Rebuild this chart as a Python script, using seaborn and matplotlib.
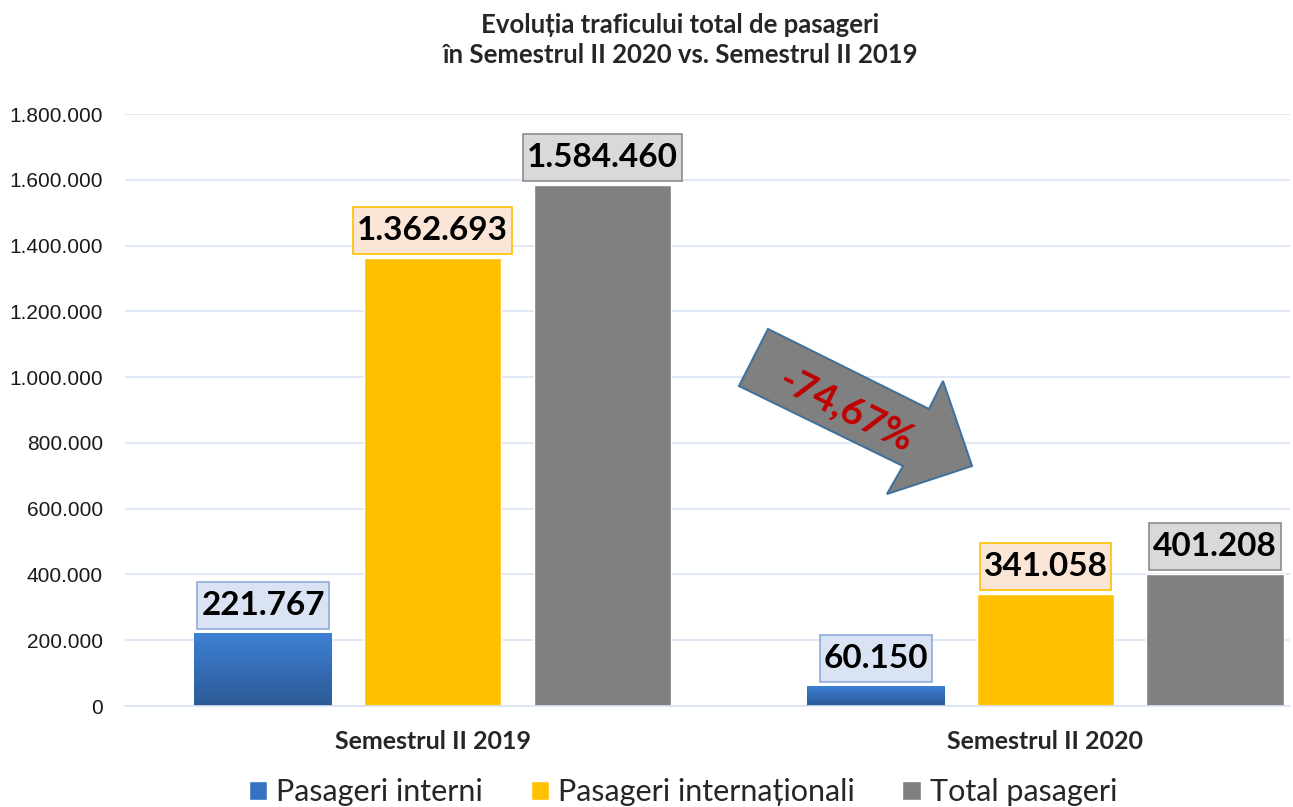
import numpy as np
import pandas as pd
import matplotlib.pyplot as plt
import seaborn as sns
from matplotlib.patches import Polygon
from matplotlib.path import Path
from matplotlib.ticker import FuncFormatter

# date
semestre = ["Semestrul II 2019", "Semestrul II 2020"]
tipuri = ["Pasageri interni", "Pasageri internaționali", "Total pasageri"]
interni = [221767, 60150]
internationali = [1362693, 341058]
total = [1584460, 401208]
scadere = "-74,67%"

culori = ["#3572c2", "#ffc000", "#808080"]
casete = [("#dae3f3", "#8faadc"), ("#fbe5d6", "#ffc000"), ("#d9d9d9", "#8c8c8c")]

df = pd.DataFrame({
    "semestru": semestre * 3,
    "tip": [t for t in tipuri for _ in semestre],
    "pasageri": interni + internationali + total,
})

sns.set_style("white")
plt.rcParams['font.family'] = ['Lato', 'DejaVu Sans']

W, H = 1293, 807
fig = plt.figure(figsize=(W / 100, H / 100), dpi=100)
ax = fig.add_axes([125 / W, 1 - 706 / H, 1165 / W, 592 / H])

sns.barplot(data=df, x="semestru", y="pasageri", hue="tip", palette=culori,
            saturation=1, width=0.83, gap=0.19, ax=ax)

# gradient pe barele albastre
grad = np.linspace(0, 1, 256).reshape(-1, 1)
cmap_blue = sns.blend_palette(["#2c5a96", "#3d80d4"], as_cmap=True)
for bar in ax.containers[0]:
    x0, w, h = bar.get_x(), bar.get_width(), bar.get_height()
    im = ax.imshow(grad, extent=(x0, x0 + w, 0, h), origin="lower", aspect="auto",
                   cmap=cmap_blue, zorder=bar.get_zorder() + 0.1)
    im.set_clip_path(bar)


# caseta cu pad diferit pe orizontala si verticala
def caseta(x0, y0, width, height, mutation_size):
    px, py = 0.12 * mutation_size, 0.27 * mutation_size
    x1, y1 = x0 + width + px, y0 + height + py
    x0, y0 = x0 - px, y0 - py
    return Path([(x0, y0), (x1, y0), (x1, y1), (x0, y1), (x0, y0)], closed=True)


# etichete valori
for cont, (fc, ec) in zip(ax.containers, casete):
    for bar in cont:
        v = bar.get_height()
        ax.annotate(f"{int(round(v)):,}".replace(",", "."),
                    (bar.get_x() + bar.get_width() / 2, v),
                    xytext=(0, 9.5), textcoords="offset points",
                    ha="center", va="bottom", fontsize=24, fontweight="bold",
                    color="black", zorder=5,
                    bbox=dict(boxstyle=caseta, fc=fc, ec=ec, lw=1.2))

ax.set_xlim(-0.502, 1.399)
ax.set_ylim(0, 1800000)
ax.set_yticks(range(0, 1800001, 200000))
ax.yaxis.set_major_formatter(FuncFormatter(lambda v, p: f"{int(v):,}".replace(",", ".")))
for lab in ax.get_yticklabels():
    lab.set_fontfamily("Liberation Sans")
ax.tick_params(axis="y", length=0, pad=16, labelsize=15, labelcolor="#1a1a1a")
ax.tick_params(axis="x", length=0, pad=17, labelsize=18)
for lab in ax.get_xticklabels():
    lab.set_fontweight("bold")
ax.set_xlabel("")
ax.set_ylabel("")
ax.grid(axis="y", color="#dae3f3", lw=1.2)
ax.set_axisbelow(True)
for s in ["left", "right", "top"]:
    ax.spines[s].set_visible(False)
ax.spines["bottom"].set_color("#dae3f3")
ax.spines["bottom"].set_linewidth(1.2)

# sageata cu scaderea procentuala
pts = [(768, 329), (929, 409), (943, 381), (972, 466), (887, 494), (903, 466), (739, 386)]
arrow = Polygon([(x / W, 1 - y / H) for x, y in pts], closed=True,
                transform=fig.transFigure, fc="#808080", ec="#41719c", lw=1.5, zorder=6)
fig.patches.append(arrow)
fig.text(846 / W, 1 - 410 / H, scadere, rotation=-26.5, rotation_mode="anchor",
         ha="center", va="center", fontsize=28, fontweight="bold", color="#c00000", zorder=7)

fig.text(680 / W, 1 - 40 / H,
         "Evoluția traficului total de pasageri\nîn Semestrul II 2020 vs. Semestrul II 2019",
         ha="center", va="center", fontsize=18.5, fontweight="bold", linespacing=1.3)

h, l = ax.get_legend_handles_labels()
ax.get_legend().remove()
fig.legend(h, l, loc="center", bbox_to_anchor=(683 / W, 1 - 792 / H), ncol=3,
           frameon=False, fontsize=22, handlelength=0.6, handleheight=0.6,
           handletextpad=0.3, columnspacing=1.55)

plt.savefig("out.png", dpi=100)
